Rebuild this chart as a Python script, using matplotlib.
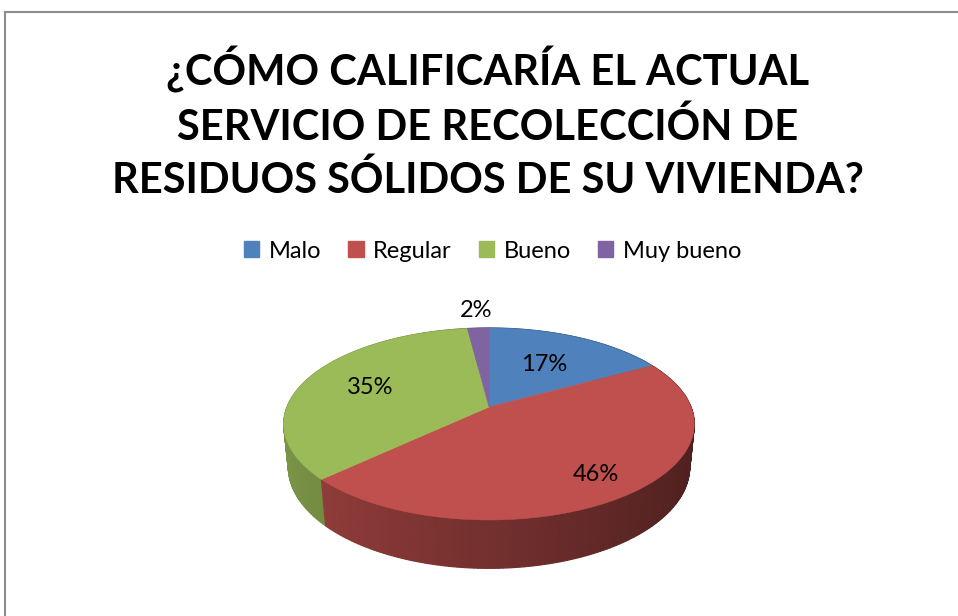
import numpy as np
import matplotlib
matplotlib.use('Agg')
import matplotlib.pyplot as plt
from matplotlib.patches import Polygon, Patch
from matplotlib.lines import Line2D

# === DATOS ===
categorias = ['Malo', 'Regular', 'Bueno', 'Muy bueno']
porcentajes = [17, 46, 35, 2]
colores = ['#4F81BD', '#C0504D', '#9BBB59', '#8064A2']
titulo = '¿CÓMO CALIFICARÍA EL ACTUAL\nSERVICIO DE RECOLECCIÓN DE\nRESIDUOS SÓLIDOS DE SU VIVIENDA?'

# === GEOMETRIA DEL PASTEL 3D (pixeles) ===
CX, CY = 489, 407
S = 202
D = 5.02
ALFA = np.radians(27.4)
SA, CA = np.sin(ALFA), np.cos(ALFA)
H = 0.242
label_r = [0.58, 0.8, 0.65, 1.27]

plt.rcParams['font.family'] = ['Lato', 'DejaVu Sans']


def proj(theta, z=0.0, r=1.0):
    X = r * np.sin(theta)
    Y = r * np.cos(theta)
    v = Y * SA + z * CA
    dep = D + Y * CA - z * SA
    return CX + S * X * D / dep, CY - S * v * D / dep


def sombra(color, x):
    rgb = np.array(matplotlib.colors.to_rgb(color))
    f = 0.6 - 0.2 * x
    return tuple(np.clip(rgb * f, 0, 1))


fig = plt.figure(figsize=(9.58, 6.16), dpi=100)
ax = fig.add_axes([0, 0, 1, 1])
ax.set_xlim(0, 958)
ax.set_ylim(616, 0)
ax.axis('off')

# marco
ax.add_line(Line2D([5.5, 5.5], [12, 616], color='#8c8c8c', lw=1.5))
ax.add_line(Line2D([5.5, 958], [12, 12], color='#8c8c8c', lw=1.5))

total = sum(porcentajes)
limites = np.cumsum([0] + porcentajes) / total * 2 * np.pi

# === LADOS ===
tiras = []
for i, c in enumerate(colores):
    a0, a1 = limites[i], limites[i + 1]
    n = max(2, int(np.degrees(a1 - a0)))
    angs = np.linspace(a0, a1, n + 1)
    for t1, t2 in zip(angs[:-1], angs[1:]):
        tm = 0.5 * (t1 + t2)
        tiras.append((np.cos(tm), t1, t2, c))
tiras.sort(key=lambda t: -t[0])
for _, t1, t2, c in tiras:
    pts = [proj(t1), proj(t2), proj(t2, -H), proj(t1, -H)]
    col = sombra(c, np.sin(0.5 * (t1 + t2)))
    ax.add_patch(Polygon(pts, closed=True, facecolor=col, edgecolor=col, lw=0.9))

# === CARAS SUPERIORES ===
for i, c in enumerate(colores):
    a0, a1 = limites[i], limites[i + 1]
    angs = np.linspace(a0, a1, max(3, int(np.degrees(a1 - a0)) * 2))
    pts = [(CX, CY)] + [proj(t) for t in angs]
    ax.add_patch(Polygon(pts, closed=True, facecolor=c, edgecolor=c, lw=0.4))

# === ETIQUETAS ===
for i, p in enumerate(porcentajes):
    tm = 0.5 * (limites[i] + limites[i + 1])
    x, y = proj(tm, r=label_r[i])
    ax.text(x, y, f'{p}%', ha='center', va='center', fontsize=17, color='black')

# === TITULO Y LEYENDA ===
fig.text(0.509, 1 - 123 / 616, titulo, ha='center', va='center', fontsize=30,
         fontweight='bold', linespacing=1.42)

handles = [Patch(facecolor=c, edgecolor=c) for c in colores]
fig.legend(handles, categorias, loc='center', bbox_to_anchor=(0.514, 1 - 251 / 616),
           ncol=4, frameon=False, fontsize=17, handlelength=0.65, handleheight=0.65,
           handletextpad=0.4, columnspacing=1.15)

fig.savefig('out.png', dpi=100)
